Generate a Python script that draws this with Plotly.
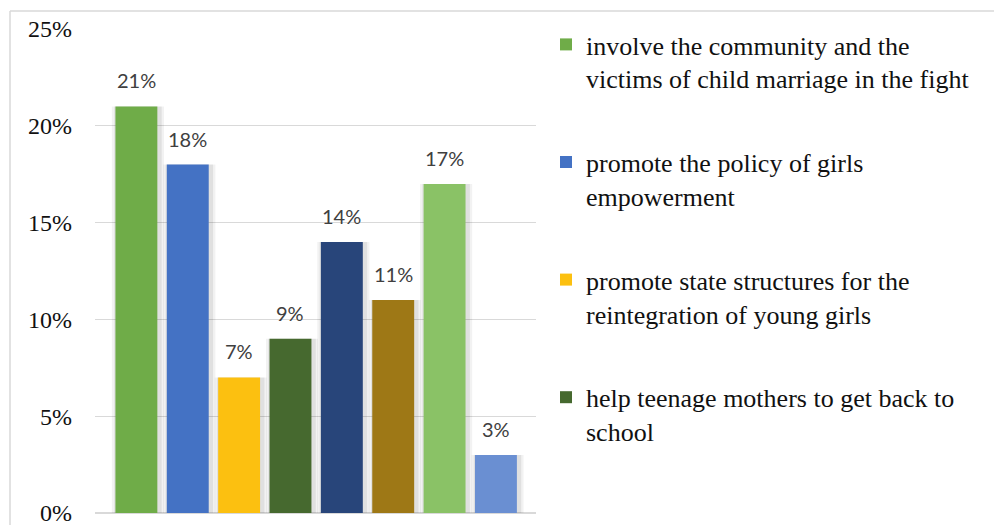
import plotly.graph_objects as go

# Share of respondents per proposed measure (%)
values = [21, 18, 7, 9, 14, 11, 17, 3]
bar_colors = ["#6fac48", "#4472c4", "#fcc010", "#46692f", "#28457a",
              "#9e7816", "#8ac266", "#6a8fd2"]
legend_labels = [
    "involve the community and the<br>victims of child marriage in the fight",
    "promote the policy of girls<br>empowerment",
    "promote state structures for the<br>reintegration of young girls",
    "help teenage mothers to get back to<br>school",
]
y_ticks = [0, 5, 10, 15, 20, 25]
y_tick_text = [f"{t}%" for t in y_ticks]

W, H = 994, 525
ML, MR, MT, MB = 95, 458, 29, 12
PW, PH = W - ML - MR, H - MT - MB
BAR_W = 0.816

def px_x(px):
    return (px - ML) / PW

def px_y(py):
    return (H - MB - py) / PH

fig = go.Figure()

positions = list(range(len(values)))

# soft drop shadow behind each bar
for extra, alpha in [(0.20, 0.05), (0.11, 0.07)]:
    fig.add_trace(go.Bar(
        x=positions, y=values, width=BAR_W + extra, offset=-(BAR_W + extra) / 2 + 0.03,
        marker=dict(color=f"rgba(0,0,0,{alpha})", line=dict(width=0)),
        showlegend=False, hoverinfo="skip",
    ))

for i, v in enumerate(values):
    fig.add_trace(go.Bar(
        x=[positions[i]], y=[v], width=BAR_W,
        name=legend_labels[i] if i < len(legend_labels) else "",
        showlegend=i < len(legend_labels),
        legendgroup=f"g{i}",
        marker=dict(color=bar_colors[i], line=dict(width=0)),
    ))
    fig.add_annotation(
        x=positions[i], y=v, text=f"{v}%", showarrow=False,
        yanchor="middle", yshift=26,
        font=dict(family="Lato", size=20, color="#404040"),
    )

# outer frame lines (top and left)
fig.add_shape(type="line", xref="paper", yref="paper",
              x0=px_x(10), x1=px_x(W + 5), y0=px_y(11), y1=px_y(11),
              line=dict(color="#d9d9d9", width=1.5))
fig.add_shape(type="line", xref="paper", yref="paper",
              x0=px_x(10), x1=px_x(10), y0=px_y(11), y1=px_y(H + 5),
              line=dict(color="#d9d9d9", width=1.5))

fig.update_layout(
    width=W, height=H,
    margin=dict(l=ML, r=MR, t=MT, b=MB, autoexpand=False),
    paper_bgcolor="white", plot_bgcolor="white",
    barmode="overlay",
    showlegend=True,
    legend=dict(
        x=px_x(546), y=px_y(21), xanchor="left", yanchor="top",
        traceorder="grouped", tracegroupgap=47, valign="top",
        maxheight=500,
        font=dict(family="Liberation Serif", size=26, color="#111111"),
        bgcolor="rgba(0,0,0,0)",
    ),
    xaxis=dict(range=[-0.806, 7.78], showticklabels=False, showgrid=False,
               zeroline=False, showline=False, ticks="", automargin=False),
    yaxis=dict(range=[0, 25], tickvals=y_ticks, ticktext=y_tick_text,
               showgrid=True, gridcolor="#d9d9d9", gridwidth=1.2,
               zeroline=True, zerolinecolor="#d9d9d9", zerolinewidth=1.5,
               showline=False, ticks="", ticklabelstandoff=22,
               ticklabeloverflow="allow", automargin=False,
               tickfont=dict(family="Liberation Serif", size=24, color="#111111")),
)

fig.write_html("out.html")
